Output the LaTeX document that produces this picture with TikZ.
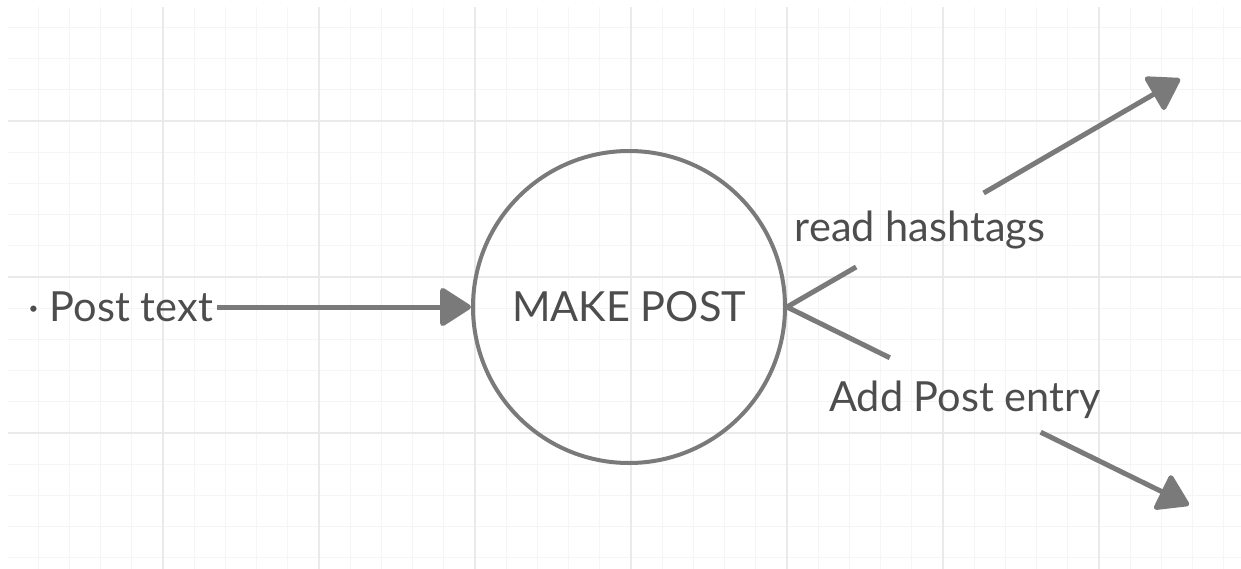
\documentclass[tikz,border=0pt]{standalone}
\usepackage{fontspec}
\setmainfont{Lato}
\usetikzlibrary{positioning, arrows.meta}
\definecolor{linegray}{HTML}{7A7A7A}
\definecolor{textgray}{HTML}{4D4D4D}
\definecolor{gridminor}{HTML}{F5F5F5}
\definecolor{gridmajor}{HTML}{EAEAEA}

\begin{document}
\begin{tikzpicture}[x = 1pt, y = -1pt,
		process/.style={circle, draw = linegray, line width = 4pt, minimum size = 312pt, inner sep = 0pt, text = textgray, font = \fontsize{41.5}{50}\selectfont},
		flowlabel/.style={inner xsep = 4pt, inner ysep = 17.7pt, text = textgray, font = \fontsize{41.5}{50}\selectfont},
		flow/.style={linegray, line width = 5pt},
		arrow/.style={flow, -{Triangle[length = 33pt, width = 41pt, round]}}
	]
	\useasboundingbox (0, 0) rectangle (1241, 569);
	
	% background grid
	\begin{scope}
		\clip (8, 8) rectangle (1241, 569);
		\foreach \i in {0, ..., 39}
			\draw[gridminor, line width = 1.2pt] (7 + 31.2*\i, 0) -- (7 + 31.2*\i, 569);
		\foreach \i in {-1, ..., 17}
			\draw[gridminor, line width = 1.2pt] (0, 27.4 + 31.2*\i) -- (1241, 27.4 + 31.2*\i);
		\foreach \i in {0, ..., 7}
			\draw[gridmajor, line width = 1.8pt] (7 + 156*\i, 0) -- (7 + 156*\i, 569);
		\foreach \i in {1, 2, 3}
			\draw[gridmajor, line width = 1.8pt] (0, -35 + 156*\i) -- (1241, -35 + 156*\i);
	\end{scope}
	
	\node[process] (post) at (629, 307) {MAKE POST};
	\node[flowlabel, inner ysep = 4pt, left = 254pt of post] (posttext) {· Post text};
	
	\coordinate (hashend) at (1180, 79);
	\coordinate (entryend) at (1189, 505);
	\node[flowlabel] (hashlabel) at (920, 230) {read hashtags};
	\node[flowlabel, text height = 40pt, text depth = 8pt, inner ysep = 13pt] (entrylabel) at (965, 395) {Add Post entry};
	
	\draw[arrow] (posttext) -- (post);
	\draw[flow] (post.east) -- (hashlabel);
	\draw[arrow] (hashlabel) -- (hashend);
	\draw[flow] (post.east) -- (entrylabel);
	\draw[arrow] (entrylabel) -- (entryend);
	
\end{tikzpicture}
\end{document}
